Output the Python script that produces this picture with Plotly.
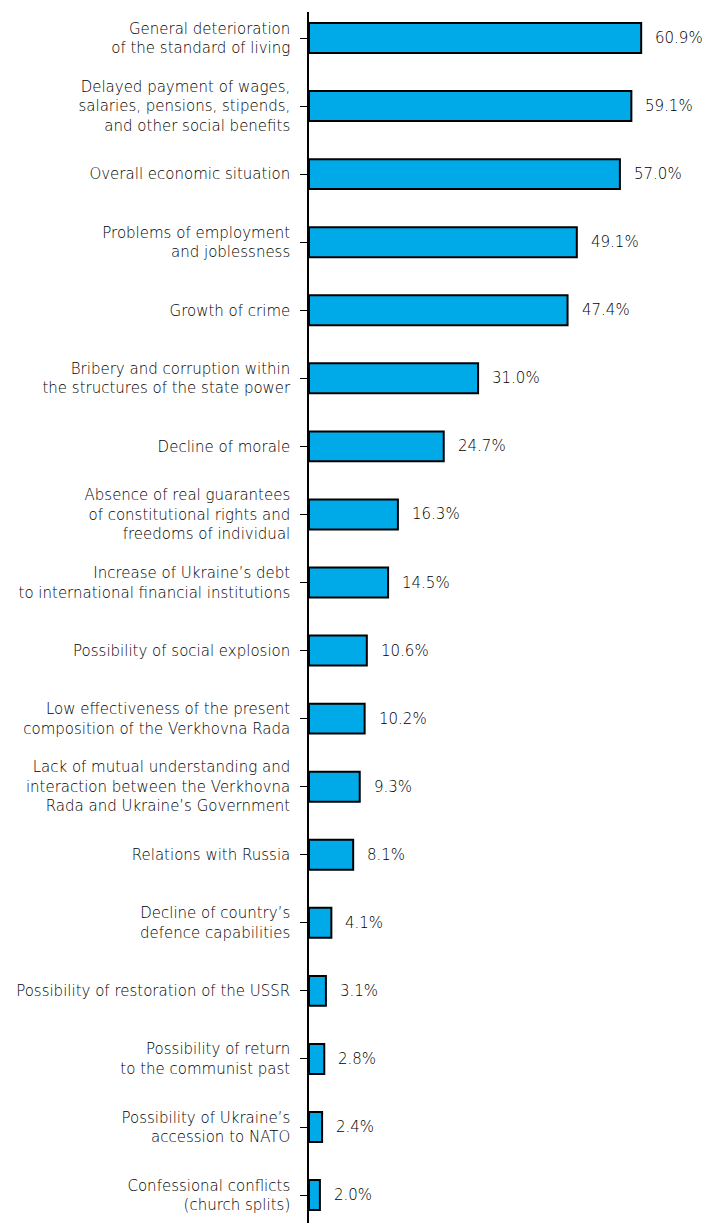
import plotly.graph_objects as go

categories = [
    "General deterioration<br>of the standard of living",
    "Delayed payment of wages,<br>salaries, pensions, stipends,<br>and other social benefits",
    "Overall economic situation",
    "Problems of employment<br>and joblessness",
    "Growth of crime",
    "Bribery and corruption within<br>the structures of the state power",
    "Decline of morale",
    "Absence of real guarantees<br>of constitutional rights and<br>freedoms of individual",
    "Increase of Ukraine’s debt<br>to international financial institutions",
    "Possibility of social explosion",
    "Low effectiveness of the present<br>composition of the Verkhovna Rada",
    "Lack of mutual understanding and<br>interaction between the Verkhovna<br>Rada and Ukraine’s Government",
    "Relations with Russia",
    "Decline of country’s<br>defence capabilities",
    "Possibility of restoration of the USSR",
    "Possibility of return<br>to the communist past",
    "Possibility of Ukraine’s<br>accession to NATO",
    "Confessional conflicts<br>(church splits)",
]
values = [60.9, 59.1, 57.0, 49.1, 47.4, 31.0, 24.7, 16.3, 14.5, 10.6,
          10.2, 9.3, 8.1, 4.1, 3.1, 2.8, 2.4, 2.0]
value_labels = [f"{v:.1f}%" for v in values]

FONT = "DejaVu Sans"
TXT = "#000000"

fig = go.Figure()
fig.add_trace(go.Bar(
    x=values, y=categories, orientation="h",
    width=0.44,
    marker=dict(color="#00A9E8", line=dict(color="#000000", width=2)),
    hoverinfo="skip",
))

for v, c, t in zip(values, categories, value_labels):
    fig.add_annotation(x=v, y=c, text=t, xanchor="left", yanchor="middle",
                       xshift=12, showarrow=False,
                       font=dict(family=FONT, size=15, color=TXT, weight=200))

fig.update_layout(
    width=705, height=1223,
    margin=dict(l=309, r=0, t=12, b=0, pad=0),
    paper_bgcolor="white", plot_bgcolor="white",
    showlegend=False,
    xaxis=dict(range=[0, 72.6], visible=False, showgrid=False,
               zeroline=False, automargin=False),
    yaxis=dict(
        type="category",
        range=[17.41, -0.382],
        automargin=False,
        showline=True, linecolor="#000000", linewidth=1.5,
        ticks="outside", ticklen=7, tickcolor="#000000", tickwidth=1,
        showgrid=False, zeroline=False,
        ticklabelstandoff=7,
        tickfont=dict(family=FONT, size=15, color=TXT, weight=200),
    ),
)

fig.write_html(
    "out.html",
    config={"displayModeBar": False},
    post_script="document.body.style.margin='0';document.body.style.overflow='hidden';",
)
